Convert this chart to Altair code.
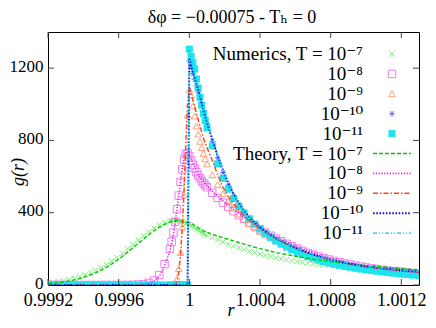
import altair as alt
import pandas as pd

# ---------------- data ----------------
r_left = [0.9992, 0.99923, 0.99926, 0.99929, 0.99932, 0.99935, 0.99938, 0.99941,
          0.99944, 0.99947, 0.9995, 0.99953, 0.99956, 0.99959, 0.99962, 0.99965,
          0.99968, 0.99971, 0.99974, 0.99977, 0.9998, 0.99983, 0.99986, 0.99989]
r_mid = [0.9999, 0.99991, 0.99992, 0.99993, 0.99994, 0.99995, 0.99996, 0.99997,
         0.99998, 0.99999, 1.0, 1.00001, 1.00002, 1.00003, 1.00004, 1.00005,
         1.00006, 1.00007, 1.00008, 1.00009, 1.0001]
r_right = [1.00013, 1.00016, 1.00019, 1.00022, 1.00025, 1.00028, 1.00031, 1.00034,
           1.00037, 1.0004, 1.00043, 1.00046, 1.00049, 1.00052, 1.00055, 1.00058,
           1.00061, 1.00064, 1.00067, 1.0007, 1.00073, 1.00076, 1.00079, 1.00082,
           1.00085, 1.00088, 1.00091, 1.00094, 1.00097, 1.001, 1.00103, 1.00106,
           1.00109, 1.00112, 1.00115, 1.00118, 1.00121, 1.00124, 1.00127, 1.0013]
r_values = r_left + r_mid + r_right

num_T7 = [12, 15, 18, 23, 29, 36, 45, 56, 68, 81, 96, 113, 131, 152, 175, 200, 224, 248, 272, 294, 315, 332, 345, 354,
          356, 357, 357, 356, 355, 352, 349, 346, 342, 338, 334, 328, 322, 316, 310, 303, 297, 291, 285, 279, 273,
          262, 250, 238, 226, 215, 205, 196, 187, 179, 171, 164, 157, 151, 145, 140, 135, 130, 126, 122, 118,
          114, 111, 108, 105, 102, 99, 96, 94, 92, 89, 87, 85, 83, 81, 79, 77, 76, 74, 72, 71]
num_T8 = [0, 0, 0, 0, 0, 0, 0, 0, 0, 0, 0, 0, 0, 0, 0, 0, 1, 2, 5, 12, 25, 55, 115, 200,
          240, 290, 350, 420, 495, 570, 640, 695, 725, 728, 712, 690, 666, 645, 625, 607, 591, 577, 564, 552, 541,
          510, 482, 456, 432, 408, 386, 365, 345, 326, 308, 290, 273, 257, 242, 228, 214, 201, 189, 178, 168,
          158, 149, 141, 133, 126, 119, 113, 107, 102, 97, 92, 88, 84, 80, 77, 74, 71, 68, 65, 62]
num_T9 = [0, 0, 0, 0, 0, 0, 0, 0, 0, 0, 0, 0, 0, 0, 0, 0, 0, 0, 0, 0, 0, 0, 0, 0,
          0, 2, 8, 35, 90, 180, 320, 500, 720, 940, 1080, 1050, 990, 935, 880, 835, 795, 760, 728, 698, 670,
          610, 555, 505, 462, 425, 393, 364, 339, 316, 296, 277, 260, 244, 230, 216, 203, 190, 178, 167, 157,
          148, 140, 132, 125, 118, 112, 106, 101, 96, 92, 88, 84, 80, 77, 74, 71, 68, 65, 63, 60]
num_T10 = [0, 0, 0, 0, 0, 0, 0, 0, 0, 0, 0, 0, 0, 0, 0, 0, 0, 0, 0, 0, 0, 0, 0, 0,
           0, 0, 0, 0, 0, 0, 0, 0, 0, 0, 1240, 1205, 1170, 1138, 1105, 1068, 1032, 995, 958, 925, 890,
           795, 702, 622, 553, 494, 446, 405, 370, 340, 314, 291, 270, 252, 236, 221, 207, 194, 182, 171, 161,
           152, 144, 136, 129, 122, 116, 110, 105, 100, 95, 91, 87, 83, 80, 77, 74, 71, 68, 66, 63]
num_T11 = [0, 0, 0, 0, 0, 0, 0, 0, 0, 0, 0, 0, 0, 0, 0, 0, 0, 0, 0, 0, 0, 0, 0, 0,
           0, 0, 0, 0, 0, 0, 0, 0, 0, 0, 1305, 1265, 1230, 1195, 1140, 1090, 1040, 995, 950, 910, 870,
           770, 670, 590, 530, 478, 435, 398, 366, 337, 310, 286, 264, 244, 226, 210, 195, 181, 168, 157, 147,
           138, 130, 122, 115, 109, 103, 98, 93, 88, 84, 80, 76, 72, 69, 66, 63, 60, 57, 55, 52]

th_T7 = [8, 10, 13, 17, 22, 28, 36, 45, 56, 68, 82, 98, 116, 136, 158, 182, 206, 230, 254, 278, 300, 320, 336, 348,
         352, 355, 357, 358, 357, 355, 353, 350, 347, 346, 345, 340, 335, 328, 322, 316, 310, 305, 300, 296, 292,
         280, 271, 262, 253, 244, 235, 226, 218, 209, 201, 194, 187, 180, 174, 169, 163, 158, 153, 148, 143,
         139, 135, 131, 127, 124, 120, 117, 114, 111, 108, 105, 103, 100, 98, 95, 93, 91, 88, 86, 84]
th_T8 = [0, 0, 0, 0, 0, 0, 0, 0, 0, 0, 0, 0, 0, 0, 0, 0, 0, 1, 3, 8, 20, 48, 105, 190,
         232, 282, 345, 418, 495, 572, 642, 700, 730, 733, 718, 697, 674, 653, 633, 615, 599, 585, 572, 560, 549,
         518, 491, 466, 442, 419, 397, 376, 356, 337, 319, 302, 285, 269, 254, 240, 226, 213, 201, 190, 179,
         169, 160, 151, 143, 135, 128, 121, 115, 109, 104, 99, 94, 90, 86, 82, 79, 76, 73, 70, 67]
th_T9 = [0, 0, 0, 0, 0, 0, 0, 0, 0, 0, 0, 0, 0, 0, 0, 0, 0, 0, 0, 0, 0, 0, 0, 0,
         0, 0, 2, 20, 70, 160, 320, 520, 780, 1000, 1095, 1060, 1023, 986, 950, 915, 880, 846, 812, 785, 760,
         690, 610, 540, 490, 450, 415, 385, 358, 334, 312, 291, 273, 257, 242, 228, 214, 201, 189, 178, 168,
         159, 150, 142, 135, 128, 122, 116, 111, 106, 101, 97, 94, 90, 87, 84, 81, 79, 76, 74, 72]
th_T10 = [0, 0, 0, 0, 0, 0, 0, 0, 0, 0, 0, 0, 0, 0, 0, 0, 0, 0, 0, 0, 0, 0, 0, 0,
          0, 0, 0, 0, 0, 0, 0, 0, 0, 0, 1250, 1215, 1180, 1150, 1117, 1080, 1045, 1005, 968, 935, 900,
          805, 715, 636, 566, 505, 455, 412, 376, 346, 320, 297, 276, 259, 244, 230, 215, 202, 190, 179, 168,
          159, 151, 143, 136, 130, 124, 117, 112, 107, 102, 99, 96, 93, 90, 87, 84, 81, 79, 77, 75]
th_T11 = [0, 0, 0, 0, 0, 0, 0, 0, 0, 0, 0, 0, 0, 0, 0, 0, 0, 0, 0, 0, 0, 0, 0, 0,
          0, 0, 0, 0, 0, 0, 0, 0, 0, 0, 1300, 1250, 1205, 1165, 1125, 1088, 1050, 1012, 975, 940, 905,
          808, 718, 638, 568, 507, 457, 414, 378, 347, 321, 298, 277, 260, 245, 231, 216, 203, 191, 180, 169,
          160, 152, 144, 137, 131, 125, 118, 113, 108, 103, 100, 97, 94, 91, 88, 85, 82, 80, 78, 76]

numerics = [num_T7, num_T8, num_T9, num_T10, num_T11]
theory = [th_T7, th_T8, th_T9, th_T10, th_T11]
powers = ["10⁻⁷", "10⁻⁸", "10⁻⁹", "10⁻¹⁰", "10⁻¹¹"]
legend_texts = ["Numerics, T = " + powers[0]] + powers[1:] + ["Theory, T = " + powers[0]] + powers[1:]
x_ticks = [0.9992, 0.9996, 1.0, 1.0004, 1.0008, 1.0012]
y_ticks = [0, 400, 800, 1200]
title_text = "δφ = −0.00075 - Tₕ = 0"

# ---------------- styling ----------------
W, H = 371, 253
FONT = "'Liberation Serif', 'DejaVu Serif', 'Times New Roman', serif"
FS = 18
YFS = 17
LFS = 19
num_colors = ["#78f078", "#f07cf0", "#ff9f7a", "#6a6aff", "#1fe4ee"]
th_colors = ["#00c800", "#e020e0", "#ff4a10", "#1010e0", "#00cfe6"]
X_PATH = "M-1,-1L1,1M-1,1L1,-1"
STAR_PATH = "M-1,0L1,0M-0.5,-0.87L0.5,0.87M-0.5,0.87L0.5,-0.87"
num_shapes = [X_PATH, "square", "triangle-up", STAR_PATH, "square"]
num_filled = [False, False, False, False, True]
num_sizes = [28, 55, 45, 34, 50]
dashes = [[4, 2], [1.2, 1.6], [5, 2, 1.5, 2], [1.6, 1.6], [4, 2, 1, 2, 1, 2]]
widths = [1.4, 1.6, 1.5, 2.0, 1.4]

xscale = alt.Scale(domain=[0.9992, 1.0013], nice=False, zero=False)
yscale = alt.Scale(domain=[0, 1400], nice=False, zero=False)
xaxis = alt.Axis(values=x_ticks, format=".4~f", title=None, tickSize=0, domain=False, grid=False,
                 labelFlush=False, labelOverlap=False, labelFont=FONT, labelFontSize=FS,
                 labelColor="black", labelPadding=6)
yaxis = alt.Axis(values=y_ticks, format="d", title=None, tickSize=0, domain=False, grid=False,
                 labelFont=FONT, labelFontSize=YFS, labelColor="black", labelPadding=5,
                 labelBaseline="middle", labelOffset=-2)


def X(field="r"):
    return alt.X(f"{field}:Q", scale=xscale, axis=xaxis)


def Y(field="g"):
    return alt.Y(f"{field}:Q", scale=yscale, axis=yaxis)


def frame(vals):
    return pd.DataFrame({"r": r_values, "g": vals})


def point_kw(i):
    kw = dict(shape=num_shapes[i], filled=num_filled[i], color=num_colors[i],
              size=num_sizes[i], opacity=1)
    if not num_filled[i]:
        kw["strokeWidth"] = 1
    return kw


layers = []

# numerics (markers)
for i in range(5):
    layers.append(alt.Chart(frame(numerics[i])).mark_point(clip=True, **point_kw(i)).encode(
        x=X(), y=Y()))

# theory (lines)
for i in range(5):
    layers.append(alt.Chart(frame(theory[i])).mark_line(
        color=th_colors[i], strokeDash=dashes[i], strokeWidth=widths[i], clip=True).encode(
        x=X(), y=Y()))

# inward ticks on all four sides
xt = pd.DataFrame({"t": x_ticks})
yt = pd.DataFrame({"t": y_ticks})
tick_color = "#444444"
layers.append(alt.Chart(xt).mark_rule(color=tick_color).encode(
    x=X("t"), y=alt.value(H), y2=alt.value(H - 6)))
layers.append(alt.Chart(xt).mark_rule(color=tick_color).encode(
    x=X("t"), y=alt.value(0), y2=alt.value(6)))
layers.append(alt.Chart(yt).mark_rule(color=tick_color).encode(
    y=Y("t"), x=alt.value(0), x2=alt.value(6)))
layers.append(alt.Chart(yt).mark_rule(color=tick_color).encode(
    y=Y("t"), x=alt.value(W), x2=alt.value(W - 6)))

# legend
ROW0, STEP = 22, 19.9
leg = pd.DataFrame({"label": legend_texts, "row": list(range(10))})
layers.append(alt.Chart(leg).transform_calculate(
    py=f"{ROW0} + {STEP} * datum.row").mark_text(
    align="right", baseline="middle", font=FONT, fontSize=LFS, color="black").encode(
    x=alt.value(315), y=alt.Y("py:Q", scale=None, axis=None), text="label:N"))
for i in range(5):
    yy = ROW0 + STEP * i
    one = pd.DataFrame({"k": [i]})
    layers.append(alt.Chart(one).mark_point(**point_kw(i)).encode(
        x=alt.value(344), y=alt.value(yy)))
    yy2 = ROW0 + STEP * (i + 5)
    layers.append(alt.Chart(one).mark_rule(color=th_colors[i], strokeDash=dashes[i],
                                           strokeWidth=widths[i]).encode(
        x=alt.value(325), x2=alt.value(363), y=alt.value(yy2)))

# titles
layers.append(alt.Chart(pd.DataFrame({"s": [title_text]})).mark_text(
    font=FONT, fontSize=18, color="black", baseline="alphabetic", align="center").encode(
    x=alt.value(184), y=alt.value(-9), text="s:N"))
layers.append(alt.Chart(pd.DataFrame({"s": ["g(r)"]})).mark_text(
    font=FONT, fontSize=18, fontStyle="italic", color="black", baseline="middle", align="center",
    angle=270).encode(x=alt.value(-29), y=alt.value(140), text="s:N"))
layers.append(alt.Chart(pd.DataFrame({"s": ["r"]})).mark_text(
    font=FONT, fontSize=18, fontStyle="italic", color="black", baseline="alphabetic",
    align="center").encode(x=alt.value(183), y=alt.value(H + 31), text="s:N"))

chart = alt.layer(*layers).properties(
    width=W, height=H,
    autosize=alt.AutoSizeParams(type="none"),
    padding={"left": 40, "top": 24, "right": 9, "bottom": 35},
).configure_view(stroke="black", strokeWidth=1)

chart.save("out.html", embed_options={"renderer": "svg", "actions": False})
